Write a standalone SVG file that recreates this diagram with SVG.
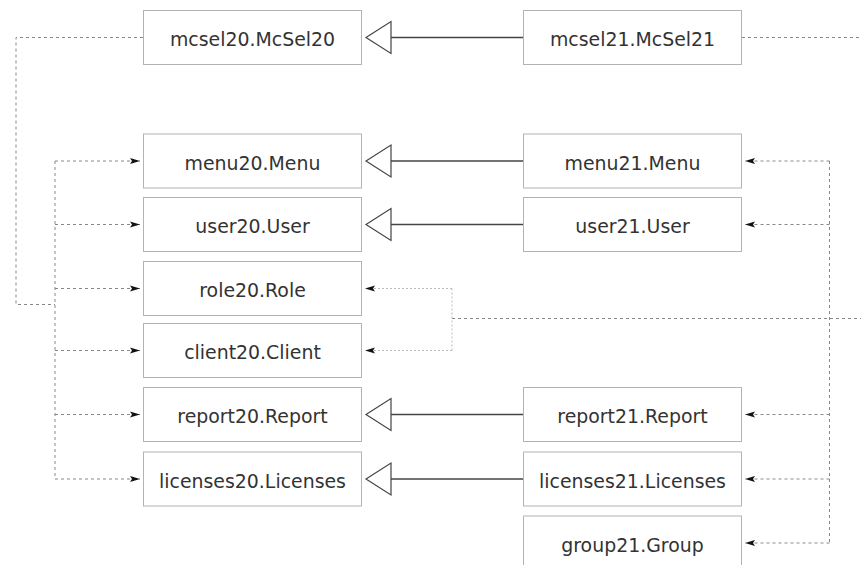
<svg xmlns="http://www.w3.org/2000/svg" width="861" height="565" viewBox="0 0 861 565">
<style>
.box{fill:#fff;stroke:#b3b3b3;stroke-width:1}
.lbl{font-family:"DejaVu Sans",sans-serif;font-size:18.9px;fill:#333;text-anchor:middle}
.inh{fill:none;stroke:#444;stroke-width:1.3}
.tri{fill:#fff;stroke:#444;stroke-width:1.2}
.dep{fill:none;stroke:#888;stroke-width:1;stroke-dasharray:3,3}
.dep2{fill:none;stroke:#bbb;stroke-width:1;stroke-dasharray:2,2}
</style>
<defs>
<marker id="ah" viewBox="0 0 10 7" refX="10" refY="3.5" markerWidth="10" markerHeight="7" markerUnits="userSpaceOnUse" orient="auto">
<path d="M0,0.5 L10,3.5 L0,6.5 L2,3.5 Z" fill="#111"/>
</marker>
</defs>
<g id="connectors">
<path class="inh" d="M391,37.5 H523.5"/>
<path class="tri" d="M366,37.5 L391,21.5 L391,53.5 Z"/>
<path class="inh" d="M391,161 H523.5"/>
<path class="tri" d="M366,161 L391,145 L391,177 Z"/>
<path class="inh" d="M391,224.5 H523.5"/>
<path class="tri" d="M366,224.5 L391,208.5 L391,240.5 Z"/>
<path class="inh" d="M391,414.5 H523.5"/>
<path class="tri" d="M366,414.5 L391,398.5 L391,430.5 Z"/>
<path class="inh" d="M391,479 H523.5"/>
<path class="tri" d="M366,479 L391,463 L391,495 Z"/>
<path class="dep" d="M143,37.5 H16 V304.5 H55"/>
<path class="dep" d="M55,161 V479"/>
<path class="dep" d="M55,161 H140" marker-end="url(#ah)"/>
<path class="dep" d="M55,224.5 H140" marker-end="url(#ah)"/>
<path class="dep" d="M55,288.5 H140" marker-end="url(#ah)"/>
<path class="dep" d="M55,350.5 H140" marker-end="url(#ah)"/>
<path class="dep" d="M55,414.5 H140" marker-end="url(#ah)"/>
<path class="dep" d="M55,479 H140" marker-end="url(#ah)"/>
<path class="dep" d="M742,37.5 H861"/>
<path class="dep" d="M829.5,161 V543"/>
<path class="dep" d="M829.5,161 H745" marker-end="url(#ah)"/>
<path class="dep" d="M829.5,224.5 H745" marker-end="url(#ah)"/>
<path class="dep" d="M829.5,414.5 H745" marker-end="url(#ah)"/>
<path class="dep" d="M829.5,479 H745" marker-end="url(#ah)"/>
<path class="dep" d="M829.5,543 H745" marker-end="url(#ah)"/>
<path class="dep" d="M452,318.5 H861"/>
<path class="dep2" d="M452,288.5 V350.5"/>
<path class="dep2" d="M452,288.5 H365" marker-end="url(#ah)"/>
<path class="dep2" d="M452,350.5 H365" marker-end="url(#ah)"/>
</g>
<g id="mcsel20"><rect class="box" x="143.5" y="10.5" width="218" height="54"/><text class="lbl" x="252.5" y="46">mcsel20.McSel20</text></g>
<g id="mcsel21"><rect class="box" x="523.5" y="10.5" width="218" height="54"/><text class="lbl" x="632.5" y="46">mcsel21.McSel21</text></g>
<g id="menu20"><rect class="box" x="143.5" y="134" width="218" height="54"/><text class="lbl" x="252.5" y="169.5">menu20.Menu</text></g>
<g id="menu21"><rect class="box" x="523.5" y="134" width="218" height="54"/><text class="lbl" x="632.5" y="169.5">menu21.Menu</text></g>
<g id="user20"><rect class="box" x="143.5" y="197.5" width="218" height="54"/><text class="lbl" x="252.5" y="233">user20.User</text></g>
<g id="user21"><rect class="box" x="523.5" y="197.5" width="218" height="54"/><text class="lbl" x="632.5" y="233">user21.User</text></g>
<g id="role20"><rect class="box" x="143.5" y="261.5" width="218" height="54"/><text class="lbl" x="252.5" y="297">role20.Role</text></g>
<g id="client20"><rect class="box" x="143.5" y="323.5" width="218" height="54"/><text class="lbl" x="252.5" y="359">client20.Client</text></g>
<g id="report20"><rect class="box" x="143.5" y="387.5" width="218" height="54"/><text class="lbl" x="252.5" y="423">report20.Report</text></g>
<g id="report21"><rect class="box" x="523.5" y="387.5" width="218" height="54"/><text class="lbl" x="632.5" y="423">report21.Report</text></g>
<g id="licenses20"><rect class="box" x="143.5" y="452" width="218" height="54"/><text class="lbl" x="252.5" y="487.5">licenses20.Licenses</text></g>
<g id="licenses21"><rect class="box" x="523.5" y="452" width="218" height="54"/><text class="lbl" x="632.5" y="487.5">licenses21.Licenses</text></g>
<g id="group21"><rect class="box" x="523.5" y="516" width="218" height="54"/><text class="lbl" x="632.5" y="551.5">group21.Group</text></g>
</svg>
